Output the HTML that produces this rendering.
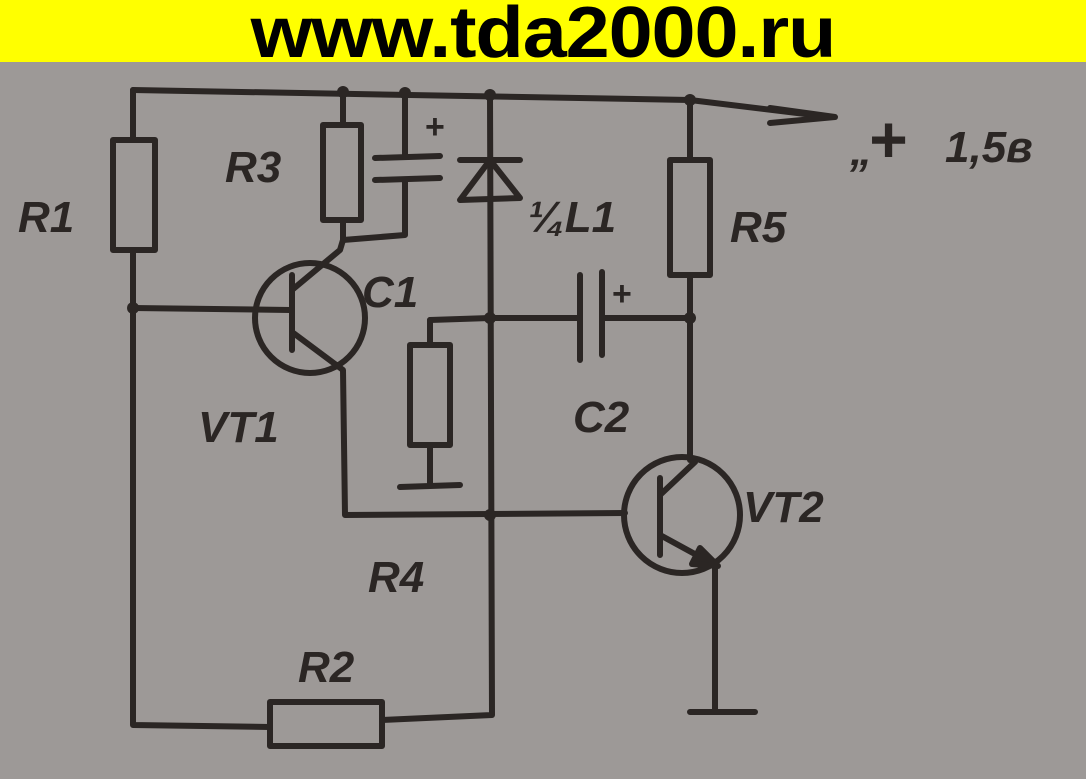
<!DOCTYPE html>
<html><head><meta charset="utf-8"><style>
html,body{margin:0;padding:0;}
body{width:1086px;height:779px;overflow:hidden;background:#9d9997;position:relative;font-family:"Liberation Sans",sans-serif;}
#ban{position:absolute;left:0;top:0;width:1086px;height:62px;background:#ffff00;overflow:hidden;}
#ban span{position:absolute;left:543px;top:-8px;font-weight:bold;font-size:72px;color:#000;transform:translateX(-50%) scaleX(1.1);white-space:nowrap;letter-spacing:-1px;}
svg{position:absolute;left:0;top:62px;}
</style></head><body>
<div id="ban"><span>www.tda2000.ru</span></div>
<svg width="1086" height="717" viewBox="0 62 1086 717" fill="none" stroke="#2b2624" stroke-width="6" stroke-linecap="round" stroke-linejoin="round">
<path d="M133 90 L690 100 L830 117"/>
<path d="M770 108 L835 117 L770 123"/>
<path d="M133 90 L133 140"/>
<rect x="113" y="140" width="42" height="110"/>
<path d="M133 250 L133 725 L270 727"/>
<rect x="270" y="702" width="112" height="44"/>
<path d="M382 720 L492 715 L490 95"/>
<path d="M343 92 L343 125"/>
<rect x="323" y="125" width="38" height="95"/>
<path d="M343 220 L343 240 L405 235 L405 180"/>
<path d="M405 93 L405 155 M375 158 L440 156 M375 180 L440 178"/>
<text x="425" y="138" fill="#2b2624" stroke="none" font-size="34" font-weight="bold">+</text>
<path d="M460 200 L520 198 L490 160 Z M460 160 L520 160"/>
<circle cx="310" cy="318" r="55"/>
<path d="M133 308 L290 310 M292 275 L292 350 M292 290 L340 250 L343 240 M292 332 L343 370 L345 515 L625 513"/>
<path d="M430 320 L490 318 L580 318"/>
<path d="M430 320 L430 345"/>
<rect x="410" y="345" width="40" height="100"/>
<path d="M430 445 L430 485 M400 487 L460 485"/>
<path d="M580 275 L580 360 M602 272 L602 355 M602 318 L690 318"/>
<text x="612" y="305" fill="#2b2624" stroke="none" font-size="34" font-weight="bold">+</text>
<path d="M690 100 L690 160"/>
<rect x="670" y="160" width="40" height="115"/>
<path d="M690 275 L690 460"/>
<circle cx="682" cy="515" r="58"/>
<path d="M660 478 L660 555 M660 495 L695 462 M660 535 L715 565 L715 710 M690 712 L755 712"/>
<path d="M700 548 L718 566 L692 564 Z" fill="#2b2624"/>
<g fill="#2b2624" stroke="none">
<circle cx="343" cy="92" r="6"/><circle cx="405" cy="93" r="6"/><circle cx="490" cy="95" r="6"/><circle cx="690" cy="100" r="6"/>
<circle cx="133" cy="308" r="6"/><circle cx="490" cy="318" r="6"/><circle cx="690" cy="318" r="6"/><circle cx="490" cy="515" r="6"/>
</g>
<g fill="#2b2624" stroke="none" font-weight="bold" font-style="italic" font-size="44" font-family="Liberation Sans,sans-serif">
<text x="18" y="232">R1</text>
<text x="225" y="182">R3</text>
<text x="528" y="232">¼L1</text>
<text x="730" y="242">R5</text>
<text x="362" y="307">C1</text>
<text x="573" y="432">C2</text>
<text x="198" y="442">VT1</text>
<text x="743" y="522">VT2</text>
<text x="368" y="592">R4</text>
<text x="298" y="682">R2</text>
<text x="850" y="165">„</text>
<text x="868" y="162" font-size="66">+</text>
<text x="945" y="162">1,5в</text>
</g>
</svg>
</body></html>
